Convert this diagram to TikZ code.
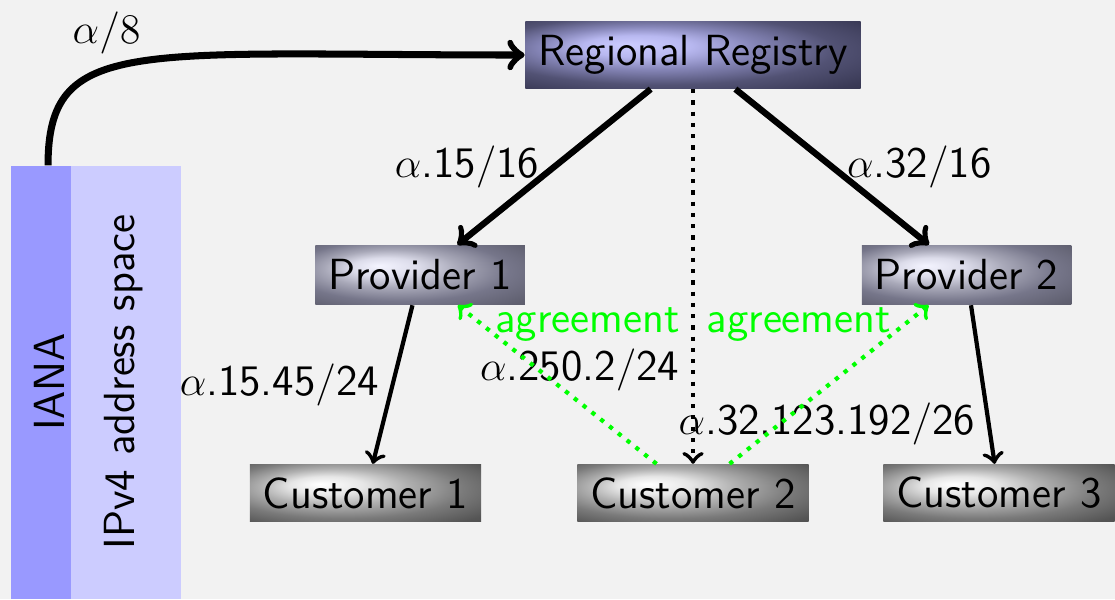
\documentclass[tikz,border=0pt]{standalone}
\usepackage{fontspec}

\definecolor{bggray}{HTML}{F2F2F2}
\definecolor{ianablue}{HTML}{9999FF}
\definecolor{spaceblue}{HTML}{CCCCFF}

% off-centre highlights for the three kinds of boxes
\pgfdeclareradialshading{rrball}{\pgfpoint{-10bp}{8bp}}{%
	color(0bp)=(rgb,255:red,204;green,204;blue,255);
	color(8bp)=(rgb,255:red,184;green,184;blue,240);
	color(16bp)=(rgb,255:red,134;green,134;blue,184);
	color(26bp)=(rgb,255:red,82;green,82;blue,116);
	color(36bp)=(rgb,255:red,58;green,58;blue,86);
	color(50bp)=(rgb,255:red,42;green,42;blue,58)}
\pgfdeclareradialshading{provball}{\pgfpoint{-10bp}{8bp}}{%
	color(0bp)=(rgb,255:red,244;green,244;blue,255);
	color(8bp)=(rgb,255:red,220;green,220;blue,234);
	color(16bp)=(rgb,255:red,168;green,168;blue,184);
	color(26bp)=(rgb,255:red,118;green,118;blue,138);
	color(36bp)=(rgb,255:red,96;green,96;blue,112);
	color(50bp)=(rgb,255:red,80;green,80;blue,88)}
\pgfdeclareradialshading{custball}{\pgfpoint{-10bp}{8bp}}{%
	color(0bp)=(rgb,255:red,255;green,255;blue,255);
	color(8bp)=(rgb,255:red,230;green,230;blue,230);
	color(16bp)=(rgb,255:red,176;green,176;blue,176);
	color(26bp)=(rgb,255:red,122;green,122;blue,122);
	color(36bp)=(rgb,255:red,85;green,85;blue,85);
	color(50bp)=(rgb,255:red,64;green,64;blue,64)}

\begin{document}
\begin{tikzpicture}[font=\sffamily\fontsize{12.4}{15}\selectfont,
	box/.style={rectangle,inner xsep=3.7pt,inner ysep=0pt},
	registry/.style={box,shading=rrball,minimum height=19pt},
	provider/.style={box,shading=provball,minimum height=16.8pt},
	customer/.style={box,shading=custball,minimum height=16.2pt},
	bar/.style={rectangle,inner sep=0pt,minimum height=4.33cm},
	agree/.style={->,very thick,dotted,color=green}]
	\useasboundingbox[fill=bggray] (0,0) rectangle (11.15,5.99);

	\node[bar,fill=ianablue,minimum width=0.6cm] (iana) at (0.41,2.165) {};
	\node[bar,fill=spaceblue,minimum width=1.1cm] (space) at (1.26,2.165) {};
	\node[rotate=90] (ianatext) at (0.49,2.17) {IANA};
	\node[rotate=90] (spacetext) at (1.24,2.17) {IPv4 address space};

	\node[registry] (rr) at (6.93,5.44) {Regional Registry};
	\node[provider] (p1) at (4.20,3.24) {Provider 1};
	\node[provider] (p2) at (9.665,3.24) {Provider 2};
	\node[customer] (c1) at (3.655,1.06) {Customer 1};
	\node[customer] (c2) at (6.93,1.06) {Customer 2};
	\node[customer] (c3) at (9.99,1.06) {Customer 3};

	\draw[->,line width=2pt] ([xshift=2pt]iana.north) .. controls +(0,1.3) and +(-3.9,0) ..
		node[above,pos=0.41] {$\alpha/8$} (rr.west);

	\draw[->,line width=1.8pt] (rr) -- node[left] {$\alpha$.15$/$16} (p1);
	\draw[->,line width=1.8pt] (rr) -- node[right] {$\alpha$.32$/$16} (p2);
	\draw[->,very thick,dotted] (rr) -- node[left,pos=0.75] {$\alpha$.250.2$/$24} (c2);

	\draw[->,very thick] (p1) -- node[left] {$\alpha$.15.45$/$24} (c1);
	\draw[->,very thick] (p2) -- node[left,pos=0.75] {$\alpha$.32.123.192$/$26} (c3);

	\draw[agree] (c2) -- node[right,pos=0.88] {agreement} (p1);
	\draw[agree] (c2) -- node[left,pos=0.88] {agreement} (p2);
\end{tikzpicture}
\end{document}
